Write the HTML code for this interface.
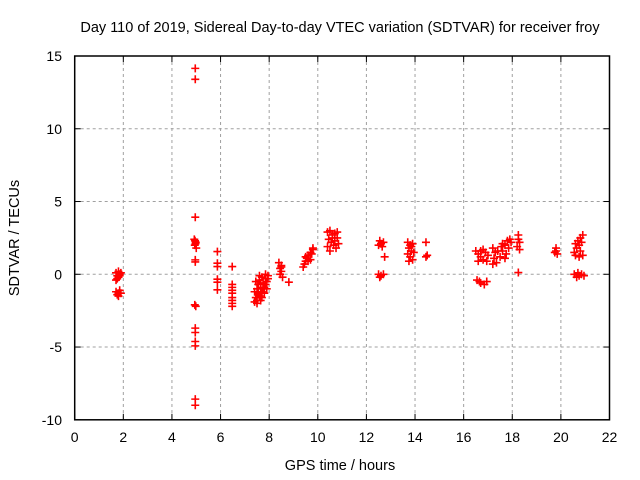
<!DOCTYPE html>
<html><head><meta charset="utf-8"><style>
body{margin:0;background:#fff}
svg{display:block;font-family:"Liberation Sans",sans-serif}
</style></head><body>
<svg id="chart" width="640" height="480">
<rect width="640" height="480" fill="#fff"/>
<text x="340" y="32" font-size="14.5" text-anchor="middle">Day 110 of 2019, Sidereal Day-to-day VTEC variation (SDTVAR) for receiver froy</text>
<text transform="translate(19,238) rotate(-90)" font-size="14.5" text-anchor="middle">SDTVAR / TECUs</text>
<text x="340" y="470" font-size="14.5" text-anchor="middle">GPS time / hours</text>
<g id="grid"></g><g id="ticks"></g><g id="marks"></g>
<rect x="74.7" y="56" width="534.8" height="363.8" fill="none" stroke="#000" stroke-width="1.5"/>
</svg>
<script>
const xTicks=[0,2,4,6,8,10,12,14,16,18,20,22];
const yTicks=[-10,-5,0,5,10,15];
const hours=[1.7,1.75,1.8,1.85,1.75,1.8,1.9,1.7,1.85,1.7,1.8,1.85,1.75,1.9,1.8,
4.96,4.96,4.96,4.92,4.98,4.94,5.0,4.95,4.97,4.96,4.96,4.94,4.98,4.96,4.96,4.96,4.96,4.96,4.96,
5.87,5.87,5.87,5.87,5.87,5.87,
6.48,6.48,6.48,6.48,6.48,6.48,6.48,6.48,6.48,
7.4,7.45,7.5,7.55,7.4,7.5,7.6,7.65,7.55,7.7,7.75,7.6,7.8,7.85,7.7,7.9,7.95,7.85,7.65,7.5,7.7,7.8,7.9,7.45,7.6,7.55,7.75,7.65,7.85,7.95,
8.4,8.5,8.45,8.5,8.45,8.55,8.5,8.81,
9.4,9.45,9.5,9.55,9.6,9.7,9.8,9.6,9.5,9.7,9.75,9.8,
10.4,10.5,10.6,10.7,10.8,10.45,10.55,10.65,10.75,10.5,10.6,10.7,10.8,10.4,10.85,
12.5,12.6,12.7,12.55,12.65,12.5,12.6,12.7,12.55,12.75,
13.7,13.8,13.9,13.75,13.85,13.7,13.8,13.9,13.75,13.85,13.95,
14.45,14.45,14.5,
16.5,16.6,16.7,16.8,16.9,17.0,16.6,16.8,16.95,16.7,16.55,16.7,16.85,16.95,16.65,
17.2,17.3,17.25,17.35,17.2,17.4,
17.5,17.6,17.7,17.8,17.9,17.6,17.75,17.85,17.95,17.55,17.7,
18.25,18.25,18.3,18.2,18.3,18.25,
19.8,19.8,19.85,19.75,
20.6,20.7,20.8,20.9,20.65,20.75,20.85,20.6,20.75,20.9,20.55,20.8,20.55,20.65,20.75,20.85,20.95,20.7];
const sdtvar=[0.1,-0.1,0.2,0.0,-0.3,-0.2,0.1,-0.4,-0.1,-1.2,-1.3,-1.1,-1.4,-1.3,-1.5,
14.15,13.4,3.92,2.4,2.2,2.0,1.8,2.3,2.1,0.99,0.85,-2.1,-2.2,-3.7,-4.0,-4.62,-4.92,-8.58,-9.0,
1.56,0.76,0.53,-0.34,-0.54,-1.07,
0.53,-0.7,-0.9,-1.1,-1.3,-1.6,-1.8,-2.0,-2.2,
-1.9,-1.6,-1.8,-1.3,-1.2,-1.0,-1.5,-0.9,-0.7,-1.2,-0.6,-0.4,-0.9,-0.3,-0.2,-0.5,-0.1,0.0,-1.8,-2.0,-1.6,-1.3,-1.0,-0.5,-0.1,-1.4,-1.0,-0.6,-0.7,-0.3,
0.8,0.6,0.4,0.2,0.0,-0.2,0.5,-0.54,
0.5,0.7,0.9,1.1,1.3,1.5,1.7,0.9,1.2,1.0,1.4,1.8,
2.9,3.0,2.7,2.8,2.9,2.4,2.2,2.0,1.8,1.6,2.5,2.3,2.5,1.9,2.1,
2.0,2.1,2.2,2.3,1.9,0.0,-0.1,0.0,-0.2,1.2,
2.2,2.0,2.1,1.8,1.6,1.4,1.2,1.0,0.9,1.9,1.5,
2.2,1.2,1.3,
1.6,1.4,1.2,1.0,1.5,1.3,0.9,1.7,0.9,1.6,-0.4,-0.6,-0.7,-0.5,-0.5,
1.8,1.5,1.1,0.8,0.7,1.6,
1.2,1.6,2.0,2.3,2.4,2.1,1.4,1.8,2.2,1.9,1.1,
2.7,2.4,2.2,1.9,1.7,0.12,
1.8,1.6,1.4,1.5,
2.1,2.3,2.5,2.7,1.8,2.0,2.2,1.3,1.2,1.3,1.5,1.6,0.0,-0.2,-0.1,0.0,-0.1,0.1];
const NS="http://www.w3.org/2000/svg";
const L=74.7,R=609.5,T=56,B=419.8;
function xs(v){return L+(v-0)/(22-0)*(R-L);}
function ys(v){return B-(v+10)/(25)*(B-T);}
function mk(tag,attrs,parent){const e=document.createElementNS(NS,tag);for(const k in attrs)e.setAttribute(k,attrs[k]);parent.appendChild(e);return e;}
const grid=document.getElementById('grid'),ticks=document.getElementById('ticks'),marks=document.getElementById('marks');
xTicks.forEach(v=>{const x=xs(v);
 if(v>0&&v<22){const g=mk('line',{x1:x,x2:x,y1:T,y2:B,stroke:'#a0a0a0','stroke-dasharray':'3,3'},grid);
 
 }
 const t=mk('line',{x1:x,x2:x,y1:B,y2:B-6,stroke:'#000'},ticks);
 
 
 const t2=mk('line',{x1:x,x2:x,y1:T,y2:T+6,stroke:'#000'},ticks);
 
 
 const l=mk('text',{x:x,y:442,'font-size':14,'text-anchor':'middle'},ticks);l.textContent=v;
 
 
});
yTicks.forEach(v=>{const y=ys(v);
 if(v>-10&&v<15){const g=mk('line',{x1:L,x2:R,y1:y,y2:y,stroke:'#a0a0a0','stroke-dasharray':'3,3'},grid);
 
 }
 const t=mk('line',{x1:L,x2:L+6,y1:y,y2:y,stroke:'#000'},ticks);
 
 
 const t2=mk('line',{x1:R,x2:R-6,y1:y,y2:y,stroke:'#000'},ticks);
 
 
 const l=mk('text',{x:62,y:y+5,'font-size':14,'text-anchor':'end'},ticks);l.textContent=v;
 
 
});
hours.forEach((h,i)=>{const x=xs(h),y=ys(sdtvar[i]);
 const p=mk('path',{d:`M${x-4},${y}H${x+4}M${x},${y-4}V${y+4}`,stroke:'#ff0000','stroke-width':1.6,fill:'none'},marks);
 
 
});
</script>
</body></html>
